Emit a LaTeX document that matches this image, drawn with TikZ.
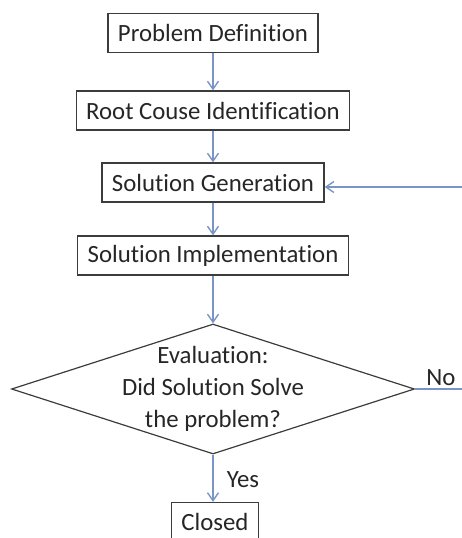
\documentclass[tikz,border=0pt]{standalone}
\usepackage{fontspec}
\setmainfont{Carlito}[Ligatures=CommonOff]
\usetikzlibrary{arrows.meta,%
                shapes,positioning}
\definecolor{flowblue}{RGB}{122,148,198}
\definecolor{boxline}{RGB}{60,60,60}

\begin{document}
\begin{tikzpicture}[x=0.5pt,y=-0.5pt,
  font=\fontsize{12.4}{16}\selectfont,
  stepbox/.style={draw=boxline, line width=0.6pt, inner xsep=5pt,
                  minimum height=19.5pt, text=black!85},
  decide/.style={draw=boxline, line width=0.6pt, shape=diamond, align=center,
                 aspect=3.1, inner xsep=-14pt, inner ysep=-8pt,
                 minimum width=201.5pt, minimum height=65pt, text=black!85},
  flow/.style={draw=flowblue, line width=0.7pt,
               -{Straight Barb[length=4pt,width=5.5pt]}},
  plain/.style={draw=flowblue, line width=0.7pt}]
\useasboundingbox (0,0) rectangle (462,538);

\node[stepbox] (def) at (213,33) {Problem Definition};
\node[stepbox] (root) at (213,110.5) {Root Couse Identification};
\node[stepbox] (gen) at (213,182.5) {Solution Generation};
\node[stepbox] (impl) at (213,255.5) {Solution Implementation};
\node[decide] (eval) at (213,389) {Evaluation:\\Did Solution Solve\\the problem?};
\node[stepbox] (closed) at (215,522) {Closed};

\node[text=black!85] (no) at (441,378) {No};
\node[text=black!85] (yes) at (243,480) {Yes};

\coordinate (noend) at (462,389);
\coordinate (back) at (462,187);

\draw[flow] (def) -- (root);
\draw[flow] (root) -- (gen);
\draw[flow] (gen) -- (impl);
\draw[flow] (impl) -- (eval);
\draw[flow] (eval.south) -- (eval.south |- closed.north);
\draw[plain] (eval.east) -- (noend);
\draw[flow] (back) -- (back -| gen.east);

\end{tikzpicture}
\end{document}
